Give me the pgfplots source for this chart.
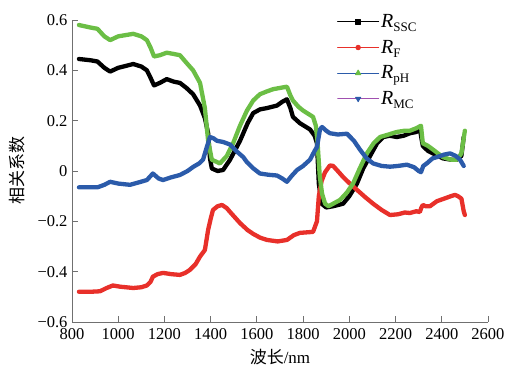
\documentclass[border=0pt]{standalone}
\usepackage{pgfplots}
\pgfplotsset{compat=1.18}
\usepackage{fontspec}
\setmainfont{Liberation Serif}
\newfontfamily\cjk{Noto Sans CJK SC}
\definecolor{cgreen}{HTML}{6BBE45}
\definecolor{cred}{HTML}{E8302A}
\definecolor{cblue}{HTML}{2B5BAA}
\definecolor{cpurple}{HTML}{A050B0}
\definecolor{axgray}{HTML}{707070}
\begin{document}
\begin{tikzpicture}
\begin{axis}[
  scale only axis, width=416pt, height=302pt,
  xmin=800, xmax=2600, ymin=-0.6, ymax=0.6,
  axis x line=bottom, axis y line=left,
  axis line style={axgray, line width=0.8pt, -},
  tick style={axgray, line width=0.8pt},
  tick align=inside, major tick length=6pt,
  xtick={800,1000,...,2600},
  ytick={-0.6,-0.4,-0.2,0,0.2,0.4,0.6},
  yticklabels={−0.6,−0.4,−0.2,0,0.2,0.4,0.6},
  x tick label style={/pgf/number format/1000 sep={}, yshift=-3pt},
  y tick label style={xshift=-1pt},
  /pgf/number format/assume math mode=true,
  tick label style={font=\fontsize{16.5}{16.5}\selectfont},
  xlabel={{\cjk 波长}/nm}, ylabel={\cjk 相关系数},
  label style={font=\fontsize{17}{17}\selectfont},
  xlabel style={at={(rel axis cs:0.5,0)}, anchor=center, yshift=-35pt},
  ylabel style={at={(rel axis cs:0,0.5)}, anchor=center, yshift=55pt},
  clip=false,
  legend style={draw=none, fill=none, at={(rel axis cs:0.637,1.025)}, anchor=north west,
    font=\fontsize{20}{20}\selectfont, row sep=7pt, inner sep=0pt},
  legend cell align=left,
  legend image code/.code={\draw[mark repeat=2,mark phase=2,#1] plot coordinates {(0pt,0pt) (20.5pt,0pt) (41pt,0pt)};},
  every axis plot/.append style={line join=round, line cap=round},
]
\path (rel axis cs:-0.1731,-0.1424) rectangle (rel axis cs:1.0505,1.0662);
\addlegendimage{black, line width=1pt, mark=square*, mark size=2.2pt}
\addlegendentry{\textit{R}{\fontsize{13}{13}\selectfont\raisebox{-4pt}{SSC}}}
\addlegendimage{cred, line width=1pt, mark=*, mark size=2.2pt}
\addlegendentry{\textit{R}{\fontsize{13}{13}\selectfont\raisebox{-4pt}{F}}}
\addlegendimage{cblue, line width=1pt, mark=triangle*, mark size=3pt, mark options={cgreen}}
\addlegendentry{\textit{R}{\fontsize{13}{13}\selectfont\raisebox{-4pt}{pH}}}
\addlegendimage{cpurple, line width=0.8pt, mark=triangle*, mark size=3pt, mark options={cblue, rotate=180}}
\addlegendentry{\textit{R}{\fontsize{13}{13}\selectfont\raisebox{-4pt}{MC}}}

% SSC
\addplot[black, line width=4.3pt, forget plot] coordinates {
(830,0.445)(880,0.44)(910,0.435)(940,0.41)(965,0.395)(1000,0.41)(1065,0.425)(1100,0.415)
(1124,0.40)(1140,0.37)(1155,0.34)(1180,0.35)(1210,0.365)(1240,0.355)(1267,0.35)(1295,0.33)
(1324,0.305)(1354,0.26)(1375,0.21)(1389,0.15)(1397,0.05)(1405,0.01)(1430,0.0)(1454,0.004)
(1484,0.045)(1527,0.12)(1560,0.19)(1584,0.23)(1614,0.245)(1644,0.25)(1687,0.26)(1710,0.275)
(1730,0.285)(1745,0.25)(1756,0.215)(1786,0.19)(1830,0.165)(1850,0.14)(1860,0.11)(1868,-0.05)
(1880,-0.13)(1900,-0.145)(1930,-0.14)(1973,-0.13)(2000,-0.10)(2033,-0.05)(2060,0.01)(2090,0.06)
(2120,0.11)(2147,0.135)(2175,0.14)(2205,0.135)(2235,0.14)(2262,0.15)(2290,0.155)(2305,0.17)
(2312,0.13)(2318,0.10)(2340,0.08)(2362,0.07)(2405,0.05)(2440,0.045)(2466,0.045)(2485,0.06)(2495,0.135)
};
% F
\addplot[cred, line width=4.3pt, forget plot] coordinates {
(830,-0.48)(880,-0.48)(921,-0.478)(950,-0.465)(977,-0.455)(1010,-0.46)(1065,-0.465)(1100,-0.462)
(1124,-0.455)(1140,-0.44)(1150,-0.42)(1170,-0.41)(1194,-0.405)(1230,-0.41)(1267,-0.413)(1290,-0.405)
(1310,-0.393)(1335,-0.37)(1354,-0.34)(1375,-0.314)(1389,-0.234)(1400,-0.19)(1410,-0.155)(1430,-0.14)
(1449,-0.135)(1470,-0.148)(1484,-0.163)(1527,-0.207)(1560,-0.235)(1584,-0.25)(1614,-0.265)(1644,-0.274)
(1690,-0.28)(1730,-0.274)(1760,-0.255)(1786,-0.246)(1843,-0.242)(1860,-0.2)(1868,-0.1)(1880,-0.04)
(1895,-0.005)(1916,0.022)(1930,0.02)(1950,0.0)(1973,-0.024)(2000,-0.048)(2033,-0.075)(2070,-0.105)
(2103,-0.13)(2140,-0.155)(2176,-0.175)(2211,-0.172)(2240,-0.165)(2262,-0.167)(2290,-0.16)(2305,-0.163)
(2312,-0.145)(2318,-0.135)(2330,-0.14)(2349,-0.14)(2379,-0.12)(2410,-0.11)(2440,-0.10)(2457,-0.095)
(2470,-0.1)(2485,-0.11)(2495,-0.16)(2500,-0.175)
};
% pH
\addplot[cgreen, line width=4.3pt, forget plot] coordinates {
(830,0.58)(880,0.57)(910,0.565)(940,0.535)(965,0.52)(1000,0.535)(1065,0.545)(1100,0.535)
(1124,0.52)(1140,0.49)(1155,0.455)(1180,0.46)(1210,0.47)(1240,0.465)(1267,0.46)(1295,0.43)
(1324,0.40)(1354,0.35)(1375,0.25)(1389,0.12)(1405,0.045)(1440,0.03)(1470,0.06)(1497,0.11)
(1527,0.18)(1557,0.24)(1584,0.28)(1613,0.305)(1640,0.315)(1670,0.325)(1700,0.33)(1730,0.335)
(1745,0.30)(1756,0.28)(1780,0.255)(1800,0.24)(1843,0.215)(1855,0.18)(1862,0.12)(1872,-0.02)
(1882,-0.09)(1895,-0.13)(1910,-0.14)(1960,-0.115)(1990,-0.085)(2016,-0.05)(2045,0.01)(2076,0.07)
(2105,0.11)(2133,0.135)(2170,0.145)(2205,0.155)(2240,0.16)(2262,0.16)(2290,0.17)(2310,0.18)
(2318,0.11)(2340,0.10)(2362,0.085)(2405,0.055)(2440,0.045)(2466,0.045)(2485,0.07)(2500,0.16)
};
% MC
\addplot[cblue, line width=4.3pt, forget plot] coordinates {
(830,-0.065)(870,-0.065)(910,-0.065)(940,-0.055)(965,-0.043)(1000,-0.05)(1051,-0.055)(1090,-0.045)
(1124,-0.036)(1150,-0.01)(1175,-0.03)(1194,-0.036)(1230,-0.025)(1267,-0.016)(1300,0.0)(1324,0.016)
(1350,0.03)(1367,0.045)(1385,0.10)(1397,0.135)(1412,0.13)(1427,0.12)(1455,0.115)(1484,0.105)
(1510,0.08)(1541,0.055)(1557,0.035)(1585,0.01)(1613,-0.01)(1650,-0.015)(1687,-0.018)(1710,-0.03)
(1730,-0.043)(1750,-0.02)(1774,0.004)(1800,0.02)(1830,0.045)(1850,0.08)(1860,0.095)(1873,0.165)
(1882,0.175)(1900,0.16)(1916,0.15)(1950,0.145)(1990,0.148)(2020,0.12)(2046,0.085)(2075,0.05)
(2103,0.03)(2140,0.02)(2176,0.017)(2210,0.02)(2249,0.025)(2280,0.015)(2300,0.0)(2310,-0.005)
(2320,0.02)(2335,0.03)(2360,0.05)(2379,0.055)(2410,0.065)(2436,0.07)(2460,0.06)(2479,0.045)(2495,0.02)
};
\end{axis}
\end{tikzpicture}
\end{document}
